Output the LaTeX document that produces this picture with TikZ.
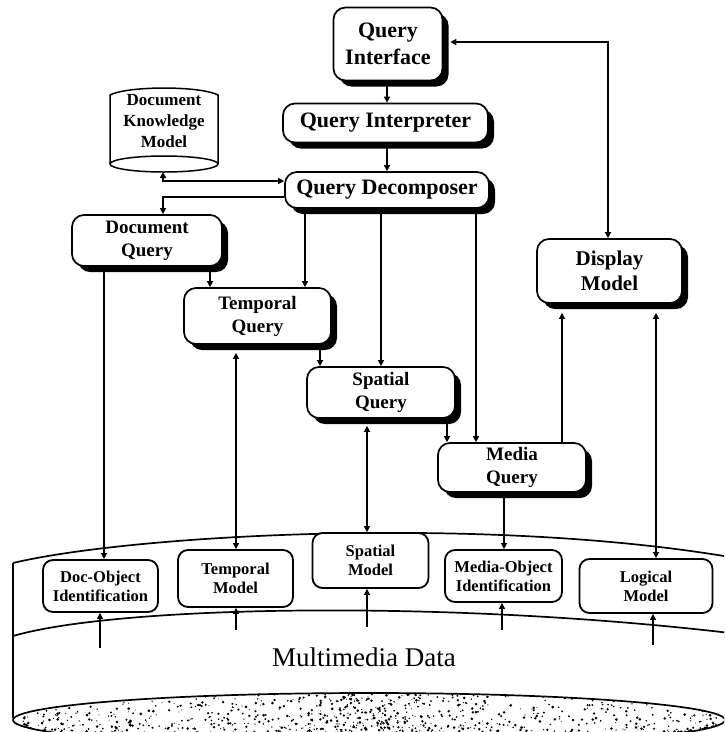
\documentclass[tikz,border=0pt]{standalone}
\usepackage{fontspec}
\setmainfont{Liberation Serif}
\usetikzlibrary{arrows.meta,shadows}

\tikzset{
  qbox/.style={draw, line width=1.7pt, rounded corners=12pt, fill=white,
    inner sep=0pt, align=center,
    drop shadow={shadow xshift=6pt, shadow yshift=-6pt, fill=black, opacity=1}},
  mbox/.style={draw, line width=1.8pt, rounded corners=10pt, fill=white,
    inner sep=0pt, align=center,
    font=\bfseries\fontsize{16.5}{19}\selectfont},
  bigtxt/.style={font=\bfseries\fontsize{22}{27}\selectfont},
  midtxt/.style={font=\bfseries\fontsize{19}{23}\selectfont},
  link/.style={line width=1.4pt, -{Triangle[length=6pt,width=6pt]}},
  bilink/.style={line width=1.4pt, {Triangle[length=6pt,width=6pt]}-{Triangle[length=6pt,width=6pt]}},
}

\begin{document}
\begin{tikzpicture}[x=1pt,y=-1pt]
\useasboundingbox (0,0) rectangle (724,732);
\clip (0,0) rectangle (724,732);

% ---- multimedia data store (large cylinder) ----
\draw[line width=1.7pt] (13,563) -- (13,718);
\draw[line width=1.7pt] (13,563) .. controls (130,535) and (480,515) .. (730,557);
\draw[line width=1.7pt] (13,636) .. controls (120,605) and (450,600) .. (730,633);
\fill[white] (369,720) ellipse [x radius=356pt, y radius=27pt];
\begin{scope}
  \clip (369,720) ellipse [x radius=356pt, y radius=27pt];
  \pgfmathsetseed{4242}
  \foreach \i in {1,...,1500}{
    \pgfmathsetmacro\t{2*rnd-1}
    \pgfmathsetmacro\px{369+350*(0.4*\t+0.6*\t*\t*\t)}
    \pgfmathsetmacro\h{27*sqrt(max(0,1-((\px-369)/356)^2))}
    \pgfmathsetmacro\v{rnd}
    \pgfmathsetmacro\py{720+\h*(1-2*\v*\v)}
    \pgfmathsetmacro\r{0.5+1.0*rnd}
    \fill (\px,\py) circle[radius=\r pt];
  }
\end{scope}
\draw[line width=1.7pt] (369,720) ellipse [x radius=356pt, y radius=27pt];
\node[font=\fontsize{27}{30}\selectfont] (mmd) at (364,657) {Multimedia Data};

% ---- document knowledge model (small cylinder) ----
\fill[white] (110,95) .. controls (128,85.7) and (200,85.7) .. (218,95)
  -- (218,164) -- (110,164) -- cycle;
\draw[line width=1.5pt] (110,164) -- (110,95)
  .. controls (128,85.7) and (200,85.7) .. (218,95) -- (218,164);
\draw[line width=1.5pt, fill=white] (164,164) ellipse [x radius=54pt, y radius=8pt];
\node[align=center, font=\bfseries\fontsize{17}{21}\selectfont] (dkm) at (164,121)
  {Document\\Knowledge\\Model};
\coordinate (dkmb) at (163,172);

% ---- query pipeline ----
\node[qbox, bigtxt, minimum width=109pt, minimum height=73pt] (qi) at (388,44) {Query\\Interface};
\node[qbox, bigtxt, minimum width=205pt, minimum height=39pt] (qint) at (385.5,123) {Query Interpreter};
\node[qbox, bigtxt, minimum width=204pt, minimum height=36pt] (qdec) at (387,190) {Query Decomposer};
\node[qbox, midtxt, minimum width=150pt, minimum height=51pt] (dq) at (147,240.5) {Document\\Query};
\node[qbox, midtxt, minimum width=147pt, minimum height=56pt] (tq) at (257.5,316) {Temporal\\Query};
\node[qbox, midtxt, minimum width=148pt, minimum height=51pt] (sq) at (381,392.5) {Spatial\\Query};
\node[qbox, midtxt, minimum width=148pt, minimum height=49pt] (mq) at (512,467.5) {Media\\Query};
\node[qbox, font=\bfseries\fontsize{21}{25}\selectfont, minimum width=145pt, minimum height=64pt] (disp) at (609.5,271) {Display\\Model};

% ---- column positions of the vertical links ----
\coordinate (xa) at (387,0);
\coordinate (xb) at (608,0);
\coordinate (xd) at (305,0);
\coordinate (xe) at (381,0);
\coordinate (xf) at (476,0);
\coordinate (xg) at (210,0);
\coordinate (xh) at (104,0);
\coordinate (xi) at (320,0);
\coordinate (xj) at (447,0);
\coordinate (xk) at (562,0);
\coordinate (xl) at (656,0);
\coordinate (xm) at (504,0);
\coordinate (xn) at (236,0);
\coordinate (xo) at (367,0);

% ---- models embedded in the data store ----
\node[mbox, minimum width=115pt, minimum height=52pt] (dob) at (100.5,586) {Doc-Object\\Identification};
\node[mbox, minimum width=115pt, minimum height=57pt] (tm) at (235.5,578.5) {Temporal\\Model};
\node[mbox, minimum width=116pt, minimum height=55pt] (sm) at (370.5,560.5) {Spatial\\Model};
\node[mbox, minimum width=117pt, minimum height=52pt] (mob) at (503.5,576) {Media-Object\\Identification};
\node[mbox, minimum width=133pt, minimum height=54pt] (lm) at (646,586) {Logical\\Model};

% ---- links ----
\draw[link] (qi.south -| xa) -- (qint.north -| xa);
\draw[link] (qint.south -| xa) -- (qdec.north -| xa);
\draw[bilink, shorten <=7pt] ([yshift=2pt]qi.east) -| (disp.north -| xb);
\draw[bilink] (dkmb) |- ([yshift=9pt]qdec.west);
\draw[link] ([yshift=-7pt]qdec.west) -| (dq.north -| dkmb);
\draw[link] (qdec.south -| xd) -- (tq.north -| xd);
\draw[link] (qdec.south -| xe) -- (sq.north -| xe);
\draw[link] (qdec.south -| xf) -- (mq.north -| xf);
\draw[link] (dq.south -| xg) -- (tq.north -| xg);
\draw[link] (tq.south -| xi) -- (sq.north -| xi);
\draw[link] (sq.south -| xj) -- (mq.north -| xj);
\draw[link, shorten >=9pt] (mq.north -| xk) -- (disp.south -| xk);
\draw[bilink, shorten <=9pt] (disp.south -| xl) -- (lm.north -| xl);
\draw[link] (dq.south -| xh) -- (dob.north -| xh);
\draw[bilink, shorten <=8pt] (tq.south -| xn) -- (tm.north -| xn);
\draw[bilink, shorten <=7pt] (sq.south -| xo) -- (sm.north -| xo);
\draw[link] (mq.south -| xm) -- (mob.north -| xm);

% ---- inputs from the data store ----
\coordinate (s1) at (100,648);
\coordinate (s2) at (236,630);
\coordinate (s3) at (367,627);
\coordinate (s4) at (502,630);
\coordinate (s5) at (653,645);
\draw[link] (s1) -- (dob.south -| s1);
\draw[link] (s2) -- (tm.south -| s2);
\draw[link] (s3) -- (sm.south -| s3);
\draw[link] (s4) -- (mob.south -| s4);
\draw[link] (s5) -- (lm.south -| s5);
\end{tikzpicture}
\end{document}
